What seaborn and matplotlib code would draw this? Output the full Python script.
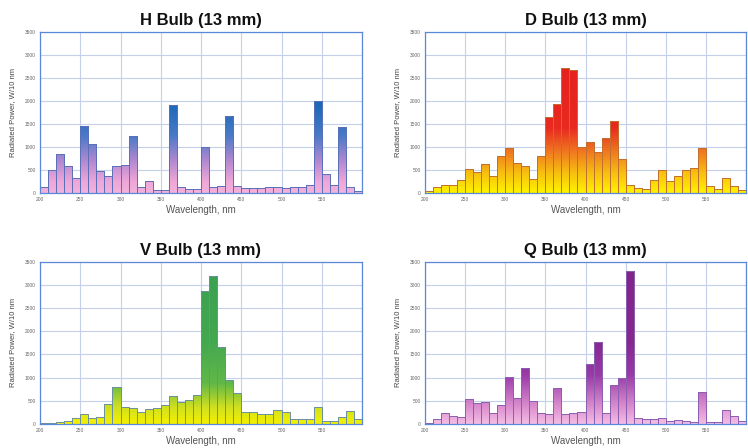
import numpy as np
import pandas as pd
import matplotlib
matplotlib.use("Agg")
import matplotlib.pyplot as plt
from matplotlib.colors import LinearSegmentedColormap
import seaborn as sns

sns.set_theme(style="white")
plt.rcParams['font.family'] = ['Liberation Sans', 'DejaVu Sans']

wavelength = np.arange(205, 600, 10)  # bin centres, 10 nm bins 200-600 nm

h_bulb = [130, 505, 845, 577, 325, 1443, 1068, 483, 375, 577,
          600, 1227, 123, 253, 72, 72, 1912, 123, 94, 94,
          988, 123, 145, 1674, 159, 108, 108, 108, 123, 123,
          108, 123, 130, 180, 2006, 411, 180, 1429, 130, 50]
d_bulb = [50, 130, 180, 166, 289, 520, 447, 628, 361, 794,
          974, 649, 592, 310, 808, 1659, 1927, 2706, 2670, 996,
          1097, 880, 1190, 1566, 736, 166, 108, 87, 274, 491,
          253, 375, 505, 541, 974, 144, 87, 325, 159, 72]
v_bulb = [15, 15, 50, 65, 137, 216, 122, 158, 424, 805,
          374, 338, 266, 323, 338, 410, 611, 481, 517, 625,
          2873, 3190, 1652, 948, 661, 266, 251, 216, 216, 309,
          266, 101, 101, 101, 374, 72, 72, 158, 273, 101]
q_bulb = [29, 101, 230, 180, 144, 539, 445, 467, 230, 410,
          1006, 568, 1207, 503, 230, 216, 769, 216, 230, 251,
          1293, 1760, 230, 848, 984, 3305, 137, 101, 101, 122,
          65, 86, 65, 36, 697, 50, 50, 302, 180, 65]

titles = ["H Bulb (13 mm)", "D Bulb (13 mm)", "V Bulb (13 mm)", "Q Bulb (13 mm)"]
series = [h_bulb, d_bulb, v_bulb, q_bulb]
x_ticks = [200, 250, 300, 350, 400, 450, 500, 550]
y_ticks = [0, 500, 1000, 1500, 2000, 2500, 3000, 3500]

cmaps = [
    LinearSegmentedColormap.from_list("h", [(0, "#f4b2dc"), (0.07, "#eea6d8"), (0.2, "#b088d0"),
                                            (0.35, "#4a7ac8"), (0.55, "#1a68b8"), (1, "#1462b4")]),
    LinearSegmentedColormap.from_list("d", [(0, "#fff200"), (0.12, "#f8c010"), (0.25, "#f07a20"),
                                            (0.4, "#e82a20"), (1, "#e41c1c")]),
    LinearSegmentedColormap.from_list("v", [(0, "#f4f000"), (0.1, "#d0e020"), (0.25, "#60b848"),
                                            (0.5, "#44a850"), (1, "#3aa050")]),
    LinearSegmentedColormap.from_list("q", [(0, "#f4bce4"), (0.1, "#dc90d0"), (0.3, "#9a3aa8"),
                                            (0.5, "#862890"), (1, "#80248c")]),
]
edge_colors = ["#5a70b8", "#c07030", "#6a90a0", "#8a60b0"]

fig = plt.figure(figsize=(7.48, 4.48), dpi=100)
fig.patch.set_facecolor("white")
W, H = 748, 448
boxes = [(40, 31.7, 362, 193), (425, 31.7, 746, 193),
         (40, 261.7, 362, 424), (425, 261.7, 746, 424)]

grad = np.linspace(0, 1, 256).reshape(-1, 1)
ymax = 3500

for i, (vals, title, cmap, ec, box) in enumerate(zip(series, titles, cmaps, edge_colors, boxes)):
    x0, y0, x1, y1 = box
    ax = fig.add_axes([x0 / W, 1 - y1 / H, (x1 - x0) / W, (y1 - y0) / H])
    df = pd.DataFrame({"wavelength": wavelength, "power": vals})
    sns.barplot(data=df, x="wavelength", y="power", native_scale=True, width=1.0,
                color="white", edgecolor=ec, linewidth=0.7, ax=ax, zorder=2)
    ax.set_axisbelow(True)
    for p in ax.patches:
        p.set_facecolor("none")
        bx, by = p.get_x(), p.get_y()
        bw, bh = p.get_width(), p.get_height()
        im = ax.imshow(grad, extent=(bx, bx + bw, 0, ymax), origin="lower",
                       cmap=cmap, aspect="auto", zorder=1.5, interpolation="bilinear")
        im.set_clip_path(p)
    ax.set_xlim(200, 600)
    ax.set_ylim(0, ymax)
    ax.set_xticks(x_ticks + [600])
    ax.set_xticklabels([str(t) for t in x_ticks] + [""])
    ax.set_yticks(y_ticks)
    ax.set_yticklabels([str(t) for t in y_ticks])
    ax.grid(True, color="#c4d0ea", linewidth=0.8)
    ax.tick_params(axis="both", length=0, labelsize=3.5, labelcolor="#666666", pad=3)
    for s in ax.spines.values():
        s.set_visible(True)
        s.set_color("#5a88d8")
        s.set_linewidth(0.9)
    ax.set_xlabel("Wavelength, nm", fontsize=7, color="#555555", labelpad=2)
    ax.set_ylabel("Radiated Power, W/10 nm", fontsize=5.5, color="#444444", labelpad=6)
    ax.set_title(title, fontsize=12, fontweight="bold", color="#111111", pad=5)

fig.savefig("out.png", dpi=100, facecolor="white")
